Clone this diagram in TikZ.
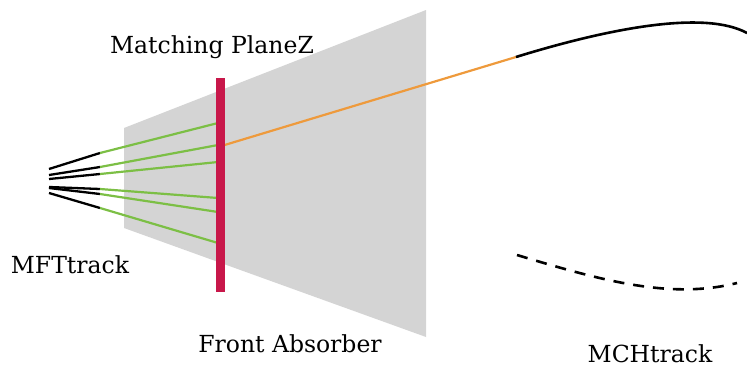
\documentclass[tikz,border=0pt]{standalone}
\usepackage{fontspec}
\setmainfont{DejaVu Serif}
\usetikzlibrary{positioning}
\definecolor{AbsorberGray}{HTML}{D4D4D4}
\definecolor{PlaneRed}{HTML}{C8174A}
\definecolor{MftGreen}{HTML}{7CBF45}
\definecolor{MatchOrange}{HTML}{EE9A3C}

\begin{document}
\begin{tikzpicture}[x=1pt,y=-1pt, every node/.style={font=\fontsize{23.5}{28}\selectfont, inner sep=0pt},
    mftpart/.style={line width=2.3pt, black},
    fitpart/.style={line width=2.2pt, MftGreen}]
  \useasboundingbox (0,0) rectangle (747,370);

  % front absorber
  \fill[AbsorberGray] (124,128) -- (426,10) -- (426,337) -- (124,228) -- cycle;

  % MFT tracks: vertex -> first point -> matching plane
  \foreach \n/\ya/\yb/\yc in {1/169/153/123, 2/175/167/145, 3/179/174/162,
                              4/187/189/198, 5/188/194/212, 6/193/208/243}{
    \coordinate (vtx\n) at (49,\ya);
    \coordinate (hit\n) at (100,\yb);
    \coordinate (mp\n) at (218,\yc);
    \draw[mftpart] (vtx\n) -- (hit\n);
    \draw[fitpart] (hit\n) -- (mp\n);
  }

  % extrapolation to MCH
  \coordinate (mpmatch) at (218,147);
  \coordinate (mchstart) at (516,57);
  \draw[line width=2.2pt, MatchOrange] (mpmatch) -- (mchstart);
  \draw[line width=2.6pt] (mchstart) .. controls (610,28) and (705,10) .. (747,33);
  \draw[line width=2.6pt, dash pattern=on 11pt off 9pt] (517,255) .. controls (600,280) and (670,300) .. (737,283);

  % matching plane
  \fill[PlaneRed] (216,78) rectangle (225,292);

  \node[anchor=base] (planez) at (212,53) {Matching PlaneZ};
  \node[anchor=base] (mftlabel) at (70,273) {MFTtrack};
  \node[anchor=base] (absorber) at (290,352) {Front Absorber};
  \node[anchor=base] (mchlabel) at (650,362) {MCHtrack};
\end{tikzpicture}
\end{document}
